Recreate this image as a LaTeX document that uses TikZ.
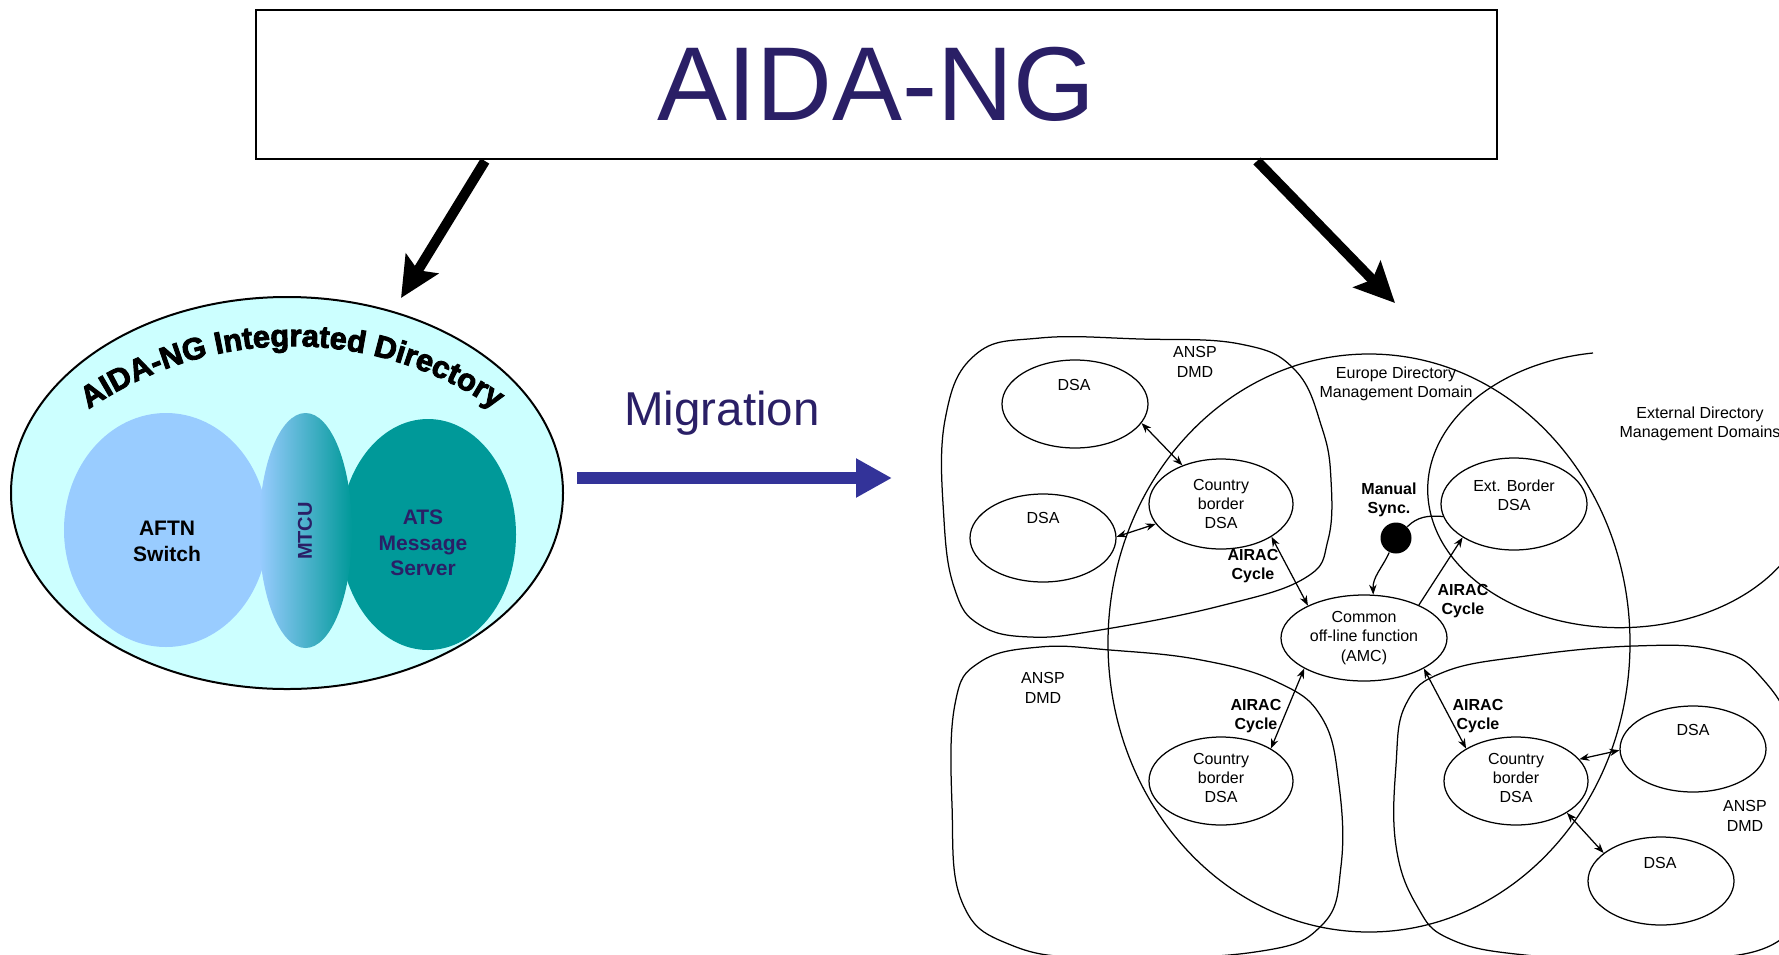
\documentclass[tikz,border=0pt]{standalone}
\usepackage{fontspec}
\setmainfont{Liberation Sans}
\newfontfamily\heavyfont{Liberation Sans}[FakeBold=3]
\usetikzlibrary{shapes.geometric, arrows.meta, decorations.text, calc}
\definecolor{navy}{RGB}{42,31,102}
\definecolor{migblue}{RGB}{51,51,153}
\definecolor{aftn}{HTML}{99CCFF}
\definecolor{ats}{HTML}{009999}
\definecolor{cyanfill}{HTML}{CCFFFF}
\newcommand\dgfont{\fontsize{6.4}{7.7}\selectfont}
\begin{document}
\begin{tikzpicture}[x=0.4pt, y=-0.4pt,
  ell/.style={ellipse, draw, line width=0.5pt, inner sep=0pt},
  lbl/.style={font=\dgfont, align=center, inner sep=0pt},
  blbl/.style={font=\dgfont\bfseries, align=center, inner sep=0pt},
  dbl/.style={line width=0.5pt, {Stealth[length=4pt,width=3pt]}-{Stealth[length=4pt,width=3pt]}},
  sgl/.style={line width=0.5pt, -{Stealth[length=4pt,width=3pt]}},
  blob/.style={line width=0.5pt},
  bigarrow/.style={line width=4pt, -{Stealth[length=16pt,width=15pt,inset=3pt]}},
  lefttxt/.style={font=\fontsize{8.4}{10.3}\selectfont\bfseries, align=center, inner sep=0pt},
]
\useasboundingbox (0,0) rectangle (1779,954);

% ---------- title ----------
\node[draw, line width=0.9pt, minimum width=496.4pt, minimum height=59.6pt, inner sep=0pt,
      font=\fontsize{42}{42}\selectfont, text=navy] (title) at (876.5,84.5) {AIDA-NG};

\coordinate (l1) at (485,161);
\coordinate (l2) at (401,298);
\coordinate (r1) at (1257,161);
\coordinate (r2) at (1395,303);
\draw[bigarrow] (l1) -- (l2);
\draw[bigarrow] (r1) -- (r2);

% ---------- left: integrated directory ----------
\node[ellipse, draw, line width=0.8pt, fill=cyanfill, minimum width=220.8pt, minimum height=156.8pt, inner sep=0pt] (idir) at (287,493) {};
\node[ellipse, fill=aftn, minimum width=81.6pt, minimum height=93.6pt, inner sep=0pt] (aftn) at (166,530) {};
\node[ellipse, fill=ats, minimum width=70.4pt, minimum height=92.4pt, inner sep=0pt] (ats) at (428,534.5) {};
\node[ellipse, left color=aftn, right color=ats, minimum width=37.2pt, minimum height=94pt, inner sep=0pt] (mtcu) at (305.5,530.5) {};
\node[lefttxt] (aftnt) at (167,541) {AFTN\\Switch};
\node[lefttxt, text=navy, font=\fontsize{8}{10}\selectfont\bfseries, rotate=90] (mtcut) at (305,531) {MTCU};
\node[lefttxt, text=navy] (atst) at (423,543) {ATS\\Message\\Server};
\path[decorate, decoration={text along path, text align=center,
      text={|\heavyfont\bfseries\fontsize{12.3}{12.3}\selectfont|AIDA-NG Integrated Directory}}]
  (82,414) arc[start angle=-125.8, end angle=-54.2, radius=359];

% ---------- migration ----------
\node[font=\fontsize{19}{19}\selectfont, text=navy] (mig) at (722,413) {Migration};
\coordinate (ms) at (577,478);
\coordinate (me) at (892,478);
\draw[migblue, line width=4.8pt, -{Triangle[length=14.4pt,width=14.7pt]}] (ms) -- (me);

% ---------- right: directory domains ----------
\begin{scope}
\clip (0,0) rectangle (1779,954);
\draw[blob] plot[smooth cycle, tension=0.7] coordinates {
  (975,355) (1040,338) (1140,339) (1240,344) (1295,370) (1322,428) (1331,480) (1328,540)
  (1305,578) (1220,606) (1100,630) (1030,637) (980,625) (955,590) (944,520) (945,420)};
\draw[blob] plot[smooth cycle, tension=0.7] coordinates {
  (1040,647) (1110,650) (1201,660) (1277,682) (1322,718) (1339,785) (1341,866) (1322,925)
  (1255,952) (1100,958) (1011,945) (962,902) (952,805) (955,704) (980,662)};
\draw[blob] plot[smooth cycle, tension=0.7] coordinates {
  (1444,672) (1526,656) (1634,646) (1715,650) (1760,676) (1795,740) (1805,850) (1780,940)
  (1650,960) (1525,955) (1450,939) (1417,906) (1396,846) (1396,765) (1406,704)};
\draw[blob] (1369,643) ellipse [x radius=261, y radius=289];
\draw[blob] (1593,353) arc[start angle=-98, end angle=-372, x radius=192, y radius=138];
\end{scope}

\node[ell, minimum width=58.4pt, minimum height=35.2pt] (dsa1) at (1075,404) {};
\node[ell, minimum width=58.4pt, minimum height=35.2pt] (dsa2) at (1043,538) {};
\node[ell, minimum width=57.6pt, minimum height=36pt, lbl] (cb1) at (1221,504) {Country\\border\\DSA};
\node[ell, minimum width=58.4pt, minimum height=36.8pt] (ext) at (1514,504) {};
\node[ell, minimum width=66.4pt, minimum height=34.4pt, lbl] (amc) at (1364,638) {Common\\off-line function\\(AMC)};
\node[ell, minimum width=57.6pt, minimum height=35.2pt] (cb2) at (1221,781) {};
\node[ell, minimum width=57.6pt, minimum height=35.2pt] (cb3) at (1516,781) {};
\node[ell, minimum width=58.4pt, minimum height=34.4pt] (dsa3) at (1693,749) {};
\node[ell, minimum width=58.4pt, minimum height=35.2pt] (dsa4) at (1661,881) {};

\node[lbl] (dsa1t) at (1074,385) {DSA};
\node[lbl] (dsa2t) at (1043,518) {DSA};
\node[lbl] (extt) at (1514,495) {Ext. Border\\DSA};
\node[lbl] (cb2t) at (1221,778) {Country\\border\\DSA};
\node[lbl] (cb3t) at (1516,778) {Country\\border\\DSA};
\node[lbl] (dsa3t) at (1693,730) {DSA};
\node[lbl] (dsa4t) at (1660,863) {DSA};

\node[lbl] (ansp1) at (1195,362) {ANSP\\DMD};
\node[lbl] (ansp2) at (1043,688) {ANSP\\DMD};
\node[lbl] (ansp3) at (1745,816) {ANSP\\DMD};
\node[lbl] (eur) at (1396,384) {Europe Directory\\Management Domain};
\node[lbl] (extdmd) at (1700,424) {External Directory\\Management Domains};
\node[blbl] (man) at (1389,500) {Manual\\Sync.};
\node[blbl] (air1) at (1253,566) {AIRAC\\Cycle};
\node[blbl] (air2) at (1463,601) {AIRAC\\Cycle};
\node[blbl] (air3) at (1256,716) {AIRAC\\Cycle};
\node[blbl] (air4) at (1478,716) {AIRAC\\Cycle};

\node[circle, fill=black, minimum size=12.4pt, inner sep=0pt] (dot) at (1396,538) {};

\draw[dbl] (dsa1.-16) -- (cb1.135);
\draw[dbl] (dsa2.1) -- (cb1.-163);
\draw[dbl] (cb1.-33) -- (amc.150);
\draw[sgl] (amc.31) -- (ext.-147);
\draw[dbl] (amc.-153) -- (cb2.33);
\draw[dbl] (amc.-27) -- (cb3.147);
\draw[dbl] (cb3.19) -- (dsa3.181);
\draw[dbl] (cb3.-32) -- (dsa4.154);
\draw[line width=0.5pt] (ext.190) to[out=175, in=45] (dot.45);
\draw[sgl] (dot.245) to[out=245, in=92] (amc.78);
\end{tikzpicture}
\end{document}
